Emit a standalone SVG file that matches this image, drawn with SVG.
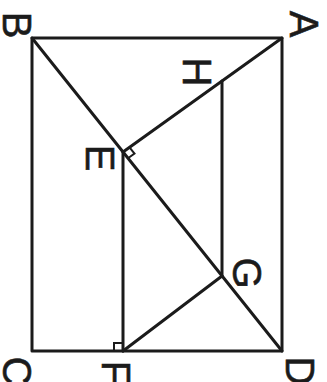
<svg xmlns="http://www.w3.org/2000/svg" width="327" height="382" viewBox="0 0 327 382">
<style>
.ln{stroke:#1b1b1b;stroke-width:3;fill:none;stroke-linecap:round;stroke-linejoin:round}
.mk{stroke:#1b1b1b;stroke-width:2;fill:none}
.lb{font-family:"Liberation Sans",Arial,sans-serif;font-size:40px;fill:#1b1b1b;stroke:#1b1b1b;stroke-width:0.6;text-anchor:middle;dominant-baseline:central}
</style>
<rect width="327" height="382" fill="#ffffff"/>
<g id="connectors">
<path class="ln" d="M32,38 L282,38 L282,351 L32,351 Z"/>
<line class="ln" x1="32" y1="38" x2="282" y2="351"/>
<line class="ln" x1="282" y1="38" x2="123" y2="152"/>
<line class="ln" x1="123" y1="152" x2="123" y2="351"/>
<line class="ln" x1="222" y1="81" x2="222" y2="276"/>
<line class="ln" x1="123" y1="351" x2="222" y2="276"/>
<path class="mk" d="M128,158.2 L134.5,153.6 L129.5,147.3"/>
<path class="mk" d="M114,351 L114,343 L123,343"/>
</g>
<g id="A"><text class="lb" transform="translate(304,24) rotate(90)">A</text></g>
<g id="B"><text class="lb" transform="translate(17,25) rotate(90)">B</text></g>
<g id="C"><text class="lb" transform="translate(17,371) rotate(90)">C</text></g>
<g id="D"><text class="lb" transform="translate(300,371) rotate(90)">D</text></g>
<g id="E"><text class="lb" transform="translate(100,158) rotate(90)">E</text></g>
<g id="F"><text class="lb" transform="translate(116,373) rotate(90)">F</text></g>
<g id="G"><text class="lb" transform="translate(247,273) rotate(90)">G</text></g>
<g id="H"><text class="lb" transform="translate(197,72) rotate(90)">H</text></g>
</svg>
